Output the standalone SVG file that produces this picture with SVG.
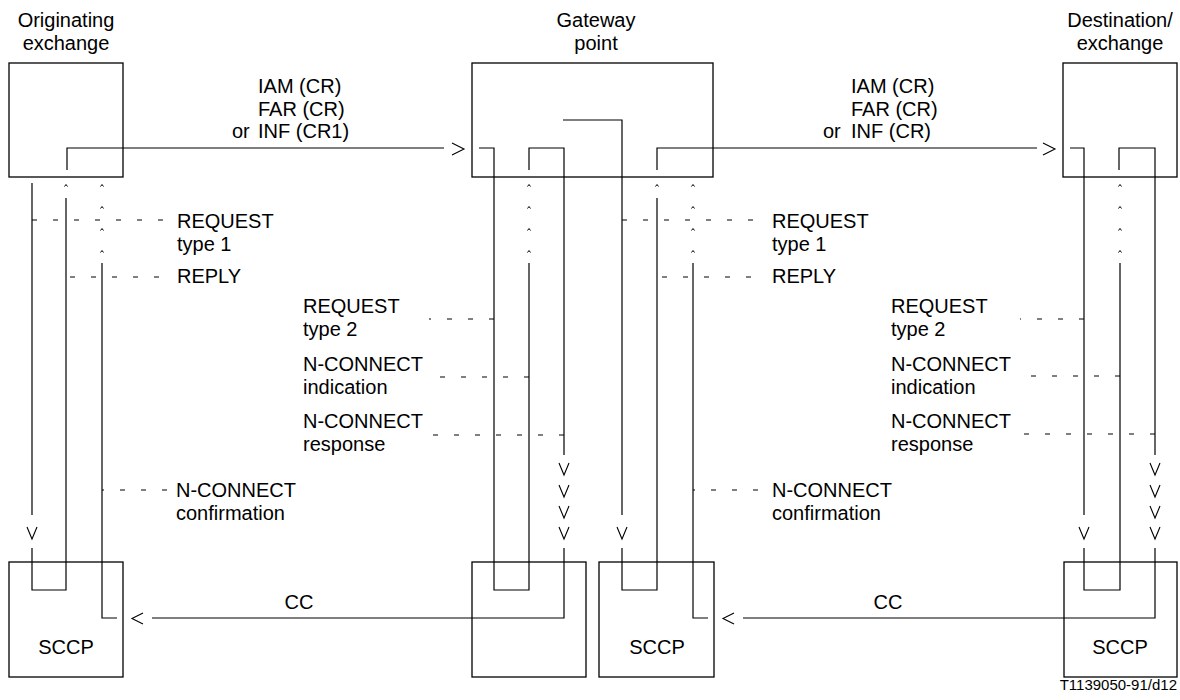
<svg xmlns="http://www.w3.org/2000/svg" width="1180" height="700" viewBox="0 0 1180 700">
<style>
.box{fill:none;stroke:#000;stroke-width:1.3}
.ln{fill:none;stroke:#000;stroke-width:1.2}
.ah{fill:none;stroke:#000;stroke-width:1.1}
.ct{fill:none;stroke:#000;stroke-width:1}
.d{fill:none;stroke:#000;stroke-width:1;stroke-dasharray:5 16}
text{font-family:"Liberation Sans",Arial,Helvetica,sans-serif;font-size:20px;fill:#000}
.c{text-anchor:middle}
.sm{font-size:15px;text-anchor:end}
</style>
<rect width="1180" height="700" fill="#fff"/>

<g id="originating-exchange">
<rect class="box" x="9" y="63" width="114" height="114"/>
<text class="c" x="66" y="27">Originating</text>
<text class="c" x="66" y="50">exchange</text>
</g>
<g id="gateway-point">
<rect class="box" x="472" y="63" width="241" height="114"/>
<text class="c" x="596" y="27">Gateway</text>
<text class="c" x="596" y="50">point</text>
</g>
<g id="destination-exchange">
<rect class="box" x="1063" y="63" width="114" height="114"/>
<text class="c" x="1120" y="27">Destination/</text>
<text class="c" x="1120" y="50">exchange</text>
</g>
<g id="sccp-originating">
<rect class="box" x="9" y="562" width="114" height="115"/>
<text class="c" x="66" y="654">SCCP</text>
</g>
<g id="sccp-gateway-left">
<rect class="box" x="472" y="562" width="114" height="115"/>
</g>
<g id="sccp-gateway-right">
<rect class="box" x="599" y="562" width="115" height="115"/>
<text class="c" x="657" y="654">SCCP</text>
</g>
<g id="sccp-destination">
<rect class="box" x="1064" y="562" width="113" height="115"/>
<text class="c" x="1120" y="654">SCCP</text>
</g>

<g id="connectors">
<!-- IAM origin -> gateway -->
<polyline class="ln" points="32,183 32,515"/>
<polyline class="ah" points="27,527 32,539 37,527"/>
<polyline class="ln" points="32,548 32,590 66,590 66,198"/>
<polyline class="ct" points="64.5,186.5 66,184.5 67.5,186.5"/>
<polyline class="ln" points="67,170 67,148 444,148"/>
<polyline class="ah" points="452,143 464,149 452,155"/>
<polyline class="ln" points="479,148 494,148 494,590 529,590 529,263"/>
<polyline class="ln" points="529,170 529,148 564,148 564,455"/>
<polyline class="ah" points="559,463 564,475 569,463"/>
<polyline class="ah" points="559,485 564,497 569,485"/>
<polyline class="ah" points="559,506 564,518 569,506"/>
<polyline class="ah" points="559,527 564,539 569,527"/>
<polyline class="ln" points="564,548 564,618 152,618"/>
<polyline class="ah" points="143,613 132,618.5 143,624"/>
<polyline class="ln" points="117,618 102,618 102,263"/>
<!-- gateway -> destination -->
<polyline class="ln" points="563,120 622,120 622,515"/>
<polyline class="ah" points="617,527 622,539 627,527"/>
<polyline class="ln" points="622,548 622,590 657,590 657,198"/>
<polyline class="ct" points="655.5,186.5 657,184.5 658.5,186.5"/>
<polyline class="ln" points="657,170 657,148 1037,148"/>
<polyline class="ah" points="1043,143 1055,149 1043,155"/>
<polyline class="ln" points="1070,148 1084,148 1084,515"/>
<polyline class="ah" points="1079,527 1084,539 1089,527"/>
<polyline class="ln" points="1084,548 1084,590 1120,590 1120,263"/>
<polyline class="ln" points="1119,170 1119,148 1155,148 1155,455"/>
<polyline class="ah" points="1150,463 1155,475 1160,463"/>
<polyline class="ah" points="1150,485 1155,497 1160,485"/>
<polyline class="ah" points="1150,506 1155,518 1160,506"/>
<polyline class="ah" points="1150,527 1155,539 1160,527"/>
<polyline class="ln" points="1155,548 1155,618 743,618"/>
<polyline class="ah" points="734,613 723,618.5 734,624"/>
<polyline class="ln" points="708,618 693,618 693,263"/>
<!-- caret marks -->
<g class="ct">
<polyline points="100.5,186.5 102,184.5 103.5,186.5"/>
<polyline points="100.5,208.5 102,206.5 103.5,208.5"/>
<polyline points="100.5,230.5 102,228.5 103.5,230.5"/>
<polyline points="100.5,252.5 102,250.5 103.5,252.5"/>
<polyline points="527.5,186.5 529,184.5 530.5,186.5"/>
<polyline points="527.5,208.5 529,206.5 530.5,208.5"/>
<polyline points="527.5,230.5 529,228.5 530.5,230.5"/>
<polyline points="527.5,252.5 529,250.5 530.5,252.5"/>
<polyline points="691.5,186.5 693,184.5 694.5,186.5"/>
<polyline points="691.5,208.5 693,206.5 694.5,208.5"/>
<polyline points="691.5,230.5 693,228.5 694.5,230.5"/>
<polyline points="691.5,252.5 693,250.5 694.5,252.5"/>
<polyline points="1118.5,186.5 1120,184.5 1121.5,186.5"/>
<polyline points="1118.5,208.5 1120,206.5 1121.5,208.5"/>
<polyline points="1118.5,230.5 1120,228.5 1121.5,230.5"/>
<polyline points="1118.5,252.5 1120,250.5 1121.5,252.5"/>
</g>
<!-- dashed primitive lines -->
<line class="d" x1="163" y1="220" x2="31" y2="220"/>
<line class="d" x1="159" y1="277" x2="66" y2="277"/>
<line class="d" x1="167" y1="490" x2="102" y2="490"/>
<line class="d" x1="494" y1="319" x2="429" y2="319"/>
<line class="d" x1="529" y1="377" x2="430" y2="377"/>
<line class="d" x1="564" y1="435" x2="430" y2="435"/>
<line class="d" x1="753" y1="220" x2="622" y2="220"/>
<line class="d" x1="751" y1="277" x2="657" y2="277"/>
<line class="d" x1="758" y1="490" x2="693" y2="490"/>
<line class="d" x1="1084" y1="319" x2="1020" y2="319"/>
<line class="d" x1="1120" y1="376" x2="1030" y2="376"/>
<line class="d" x1="1155" y1="434" x2="1023" y2="434"/>
</g>

<g id="labels">
<text x="258" y="93">IAM (CR)</text>
<text x="258" y="115.5">FAR (CR)</text>
<text y="138"><tspan x="232">or</tspan><tspan x="258">INF (CR1)</tspan></text>
<text x="851" y="93">IAM (CR)</text>
<text x="851" y="115.5">FAR (CR)</text>
<text y="138"><tspan x="823">or</tspan><tspan x="851">INF (CR)</tspan></text>
<text x="177" y="228">REQUEST</text>
<text x="177" y="251">type 1</text>
<text x="177" y="283">REPLY</text>
<text x="772" y="228">REQUEST</text>
<text x="772" y="251">type 1</text>
<text x="772" y="283">REPLY</text>
<text x="303" y="313">REQUEST</text>
<text x="303" y="336">type 2</text>
<text x="303" y="371">N-CONNECT</text>
<text x="303" y="394">indication</text>
<text x="303" y="428">N-CONNECT</text>
<text x="303" y="451">response</text>
<text x="891" y="313">REQUEST</text>
<text x="891" y="336">type 2</text>
<text x="891" y="371">N-CONNECT</text>
<text x="891" y="394">indication</text>
<text x="891" y="428">N-CONNECT</text>
<text x="891" y="451">response</text>
<text x="176" y="497">N-CONNECT</text>
<text x="176" y="520">confirmation</text>
<text x="772" y="497">N-CONNECT</text>
<text x="772" y="520">confirmation</text>
<text class="c" x="299" y="609">CC</text>
<text class="c" x="888" y="609">CC</text>
<text class="sm" x="1177" y="690">T1139050-91/d12</text>
</g>
</svg>
